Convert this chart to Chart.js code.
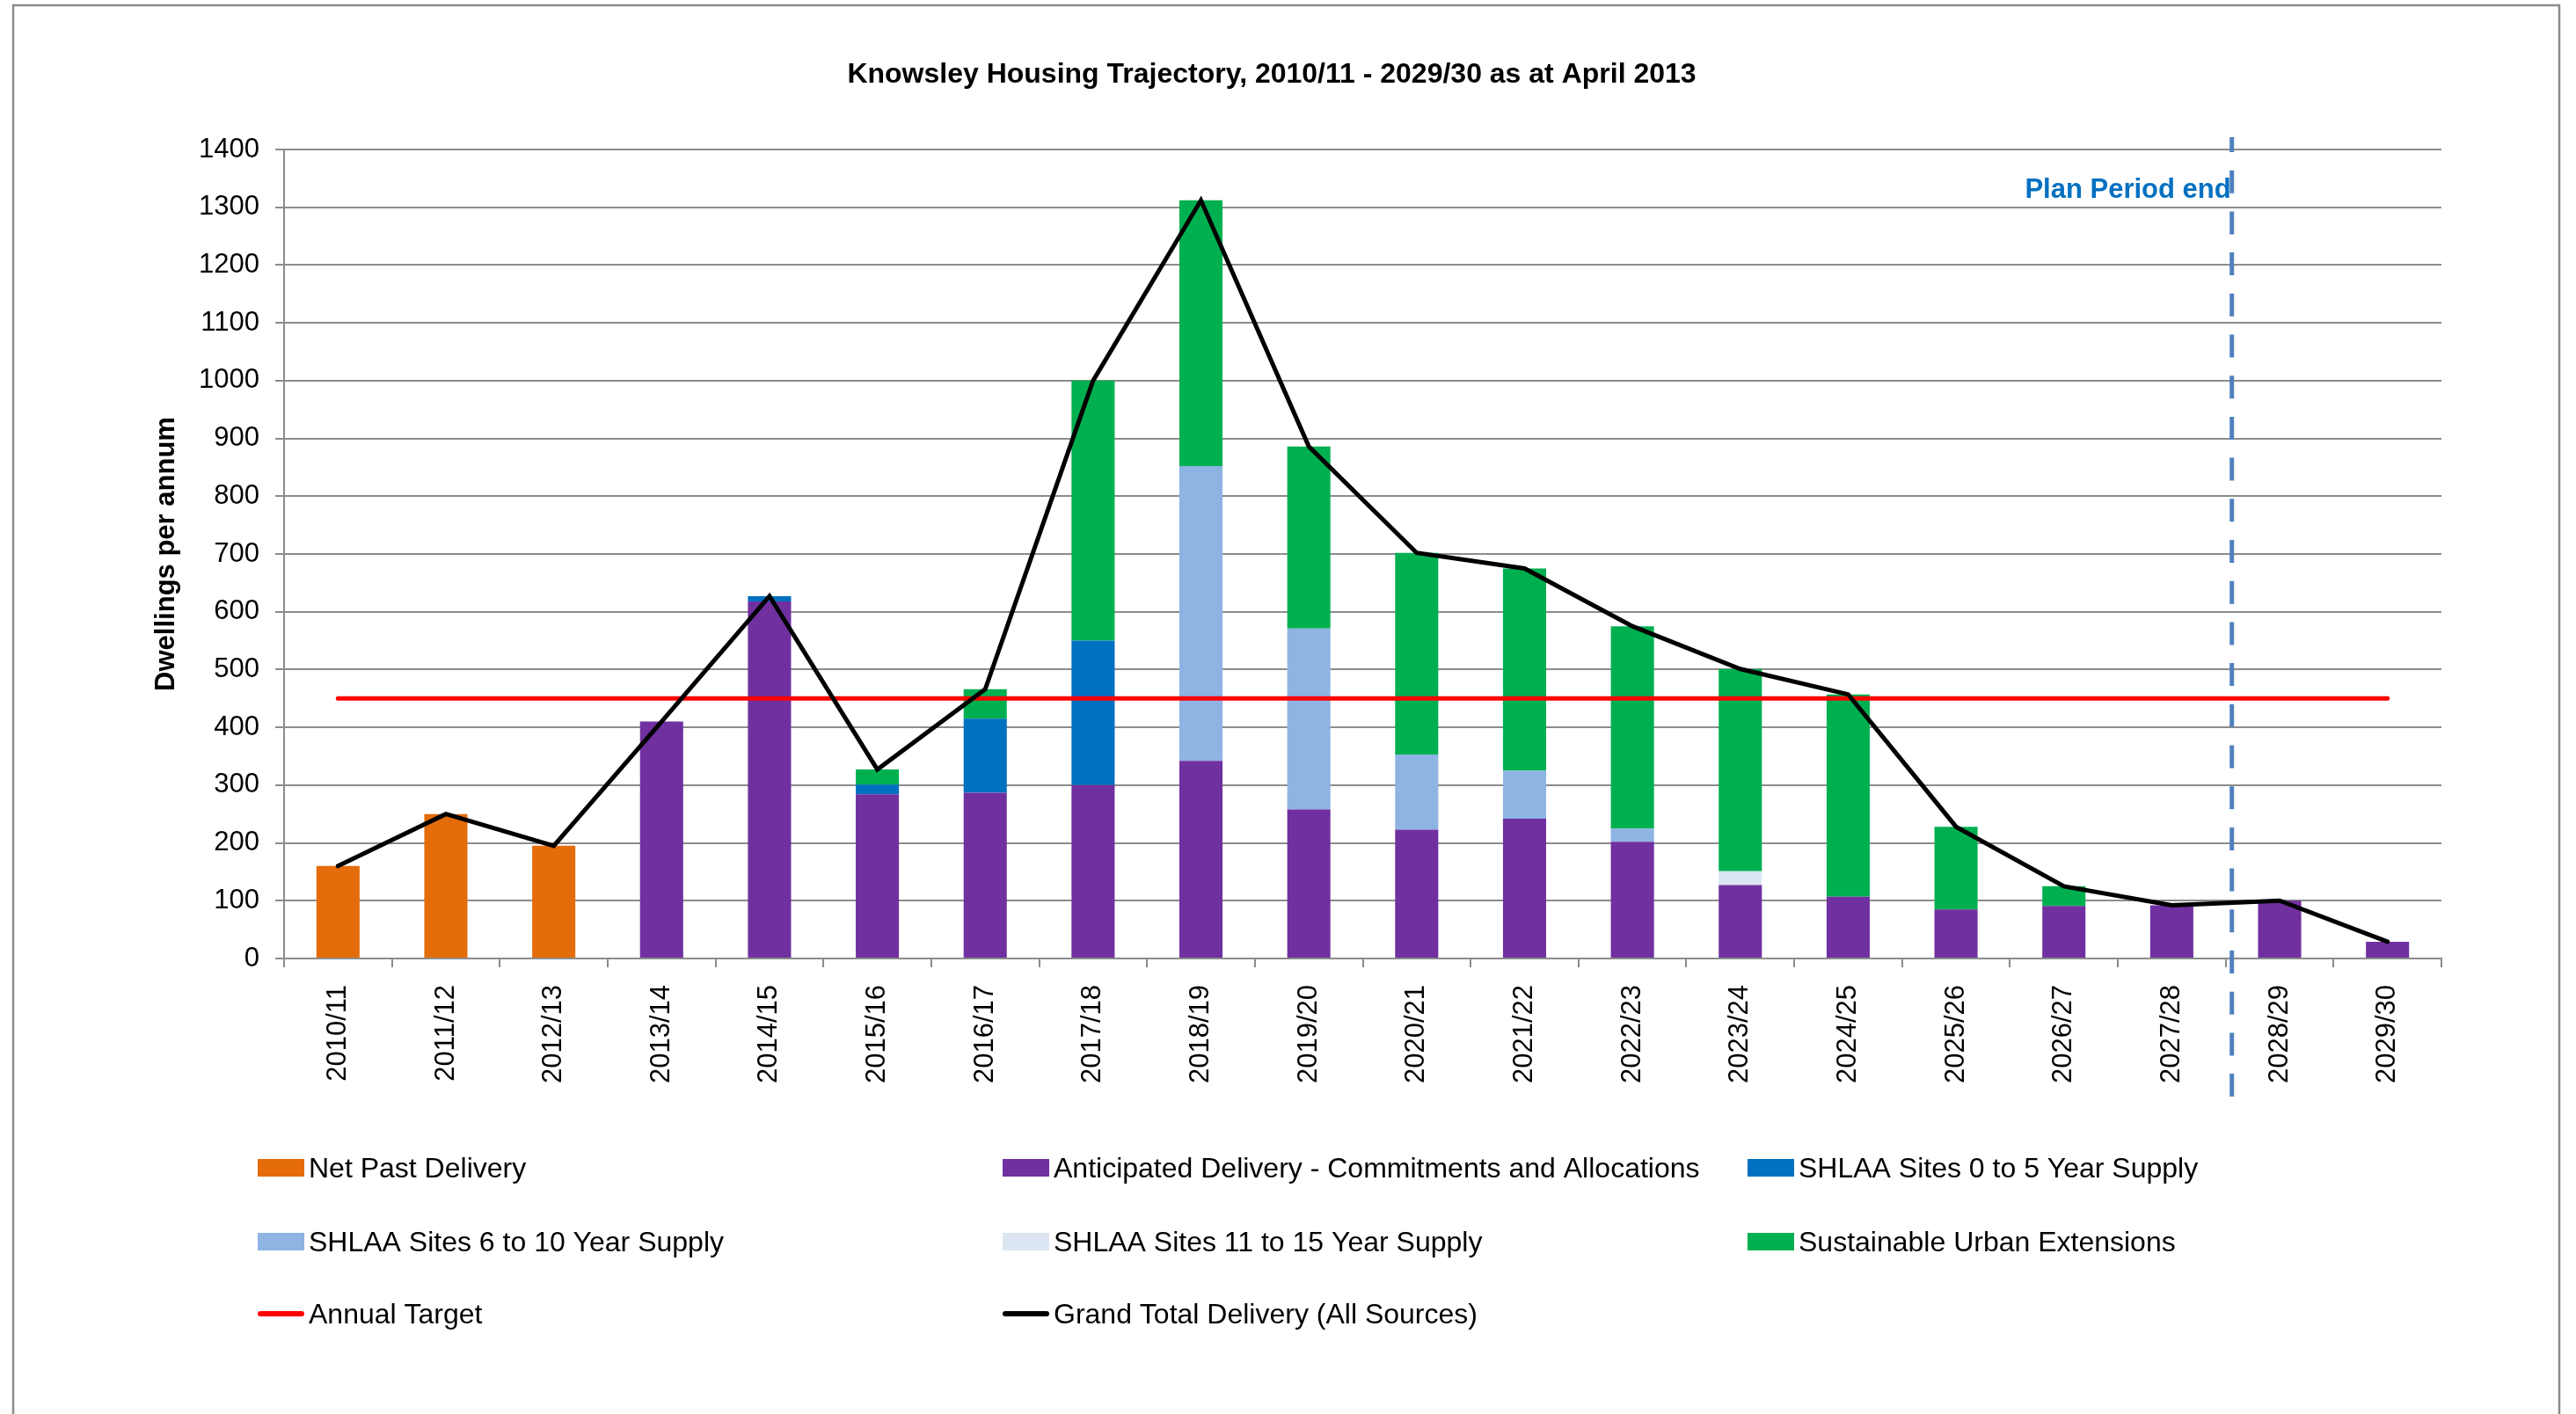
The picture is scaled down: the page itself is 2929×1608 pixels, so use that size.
<!DOCTYPE html>
<html lang="en">
<head>
<meta charset="UTF-8">
<title>Knowsley Housing Trajectory</title>
<script src="https://cdn.jsdelivr.net/npm/chart.js@4.4.0/dist/chart.umd.min.js"></script>
<style>
  html, body { margin: 0; padding: 0; background: #fff; }
  canvas { display: block; }
</style>
</head>
<body>
<canvas id="canvas" width="2929" height="1608"></canvas>
<script>
// financial years on the x axis
const years = ['2010/11', '2011/12', '2012/13', '2013/14', '2014/15', '2015/16', '2016/17',
  '2017/18', '2018/19', '2019/20', '2020/21', '2021/22', '2022/23', '2023/24', '2024/25',
  '2025/26', '2026/27', '2027/28', '2028/29', '2029/30'];

// dwellings per annum, by source
const netPastDelivery = [160, 250, 195, 0, 0, 0, 0, 0, 0, 0, 0, 0, 0, 0, 0, 0, 0, 0, 0, 0];
const commitmentsAllocations = [0, 0, 0, 410, 618, 284, 287, 300, 342, 258, 223, 242, 202, 127, 107, 85, 91, 92, 100, 29];
const shlaa0to5 = [0, 0, 0, 0, 9, 17, 128, 250, 0, 0, 0, 0, 0, 0, 0, 0, 0, 0, 0, 0];
const shlaa6to10 = [0, 0, 0, 0, 0, 0, 0, 0, 510, 313, 130, 83, 23, 0, 0, 0, 0, 0, 0, 0];
const shlaa11to15 = [0, 0, 0, 0, 0, 0, 0, 0, 0, 0, 0, 0, 0, 24, 0, 0, 0, 0, 0, 0];
const urbanExtensions = [0, 0, 0, 0, 0, 26, 51, 450, 460, 315, 349, 350, 350, 350, 350, 143, 34, 0, 0, 0];
const annualTarget = [450, 450, 450, 450, 450, 450, 450, 450, 450, 450, 450, 450, 450, 450, 450, 450, 450, 450, 450, 450];
const grandTotal = [160, 250, 195, 410, 627, 327, 466, 1000, 1312, 886, 702, 675, 575, 501, 457, 228, 125, 92, 100, 29];

// y axis ticks
const yMin = 0;
const yMax = 1400;
const yStep = 100;

const FONT = '"Liberation Sans", Arial, sans-serif';
const GRID = '#8c8c8c';

function barSet(label, data, color) {
  return { type: 'bar', label: label, data: data, backgroundColor: color, stack: 'supply', order: 2,
    barPercentage: 0.4, categoryPercentage: 1.0 };
}

// frame, title, axis title, "plan period" marker and a fixed-column legend
const extras = {
  id: 'extras',
  afterDatasetsDraw(chart) {
    const ctx = chart.ctx;
    const x = chart.scales.x;
    const lineX = (x.getPixelForValue(17) + x.getPixelForValue(18)) / 2 + 7;
    ctx.save();
    ctx.strokeStyle = '#4f81bd';
    ctx.lineWidth = 5;
    ctx.setLineDash([26, 20.7]);
    ctx.lineDashOffset = 9;
    ctx.beginPath();
    ctx.moveTo(lineX, 156);
    ctx.lineTo(lineX, 1248);
    ctx.stroke();
    ctx.setLineDash([]);
    ctx.fillStyle = '#0070c0';
    ctx.font = 'bold 31px ' + FONT;
    ctx.textAlign = 'right';
    ctx.textBaseline = 'middle';
    ctx.fillText('Plan Period end', lineX - 1, 216);
    ctx.restore();
  },
  afterDraw(chart) {
    const ctx = chart.ctx;
    ctx.save();
    ctx.strokeStyle = GRID;
    ctx.lineWidth = 2.5;
    ctx.beginPath();
    ctx.moveTo(15, 1620);
    ctx.lineTo(15, 6);
    ctx.lineTo(2910, 6);
    ctx.lineTo(2910, 1620);
    ctx.stroke();

    ctx.fillStyle = '#000';
    ctx.textAlign = 'center';
    ctx.textBaseline = 'middle';
    ctx.font = 'bold 32px ' + FONT;
    ctx.fillText('Knowsley Housing Trajectory, 2010/11 - 2029/30 as at April 2013', 1446, 85);

    const area = chart.chartArea;
    ctx.save();
    ctx.translate(189, (area.top + area.bottom) / 2);
    ctx.rotate(-Math.PI / 2);
    ctx.font = 'bold 31px ' + FONT;
    ctx.fillText('Dwellings per annum', 0, 0);
    ctx.restore();

    // legend: three columns, three rows
    const cols = [293, 1140, 1987];
    const rows = [1328, 1412, 1494];
    ctx.font = '32px ' + FONT;
    ctx.textAlign = 'left';
    chart.data.datasets.forEach(function (ds, i) {
      const lx = cols[i % 3];
      const ly = rows[Math.floor(i / 3)];
      if (ds.type === 'line') {
        ctx.strokeStyle = ds.borderColor;
        ctx.lineWidth = 6;
        ctx.lineCap = 'round';
        ctx.beginPath();
        ctx.moveTo(lx + 3, ly);
        ctx.lineTo(lx + 50, ly);
        ctx.stroke();
      } else {
        ctx.fillStyle = ds.backgroundColor;
        ctx.fillRect(lx, ly - 10, 53, 20);
      }
      ctx.fillStyle = '#000';
      ctx.fillText(ds.label, lx + 58, ly + 2);
    });
    ctx.restore();
  }
};

new Chart(document.getElementById('canvas'), {
  type: 'bar',
  data: {
    labels: years,
    datasets: [
      barSet('Net Past Delivery', netPastDelivery, '#e46c0a'),
      barSet('Anticipated Delivery - Commitments and Allocations', commitmentsAllocations, '#7030a0'),
      barSet('SHLAA Sites 0 to 5 Year Supply', shlaa0to5, '#0070c0'),
      barSet('SHLAA Sites 6 to 10 Year Supply', shlaa6to10, '#8eb4e3'),
      barSet('SHLAA Sites 11 to 15 Year Supply', shlaa11to15, '#dce6f2'),
      barSet('Sustainable Urban Extensions', urbanExtensions, '#00b050'),
      { type: 'line', label: 'Annual Target', data: annualTarget, borderColor: '#ff0000', borderWidth: 5,
        borderCapStyle: 'round', pointRadius: 0, tension: 0, stack: 'target', order: 1 },
      { type: 'line', label: 'Grand Total Delivery (All Sources)', data: grandTotal, borderColor: '#000000',
        borderWidth: 5, borderCapStyle: 'round', borderJoinStyle: 'miter', pointRadius: 0, tension: 0,
        stack: 'total', order: 0 }
    ]
  },
  options: {
    responsive: false,
    devicePixelRatio: 1,
    animation: false,
    layout: { padding: { top: 170, right: 153, left: 0, bottom: 0 } },
    plugins: { legend: { display: false }, tooltip: { enabled: false }, title: { display: false } },
    scales: {
      x: {
        stacked: true,
        grid: { drawOnChartArea: false, drawTicks: true, tickLength: 10, color: GRID, lineWidth: 2, offset: true },
        border: { display: true, color: GRID, width: 2 },
        ticks: { color: '#000', font: { family: FONT, size: 31 }, minRotation: 90, maxRotation: 90,
          autoSkip: false, padding: 20 },
        afterFit(scale) { scale.height = 518; }
      },
      y: {
        stacked: true,
        min: yMin,
        max: yMax,
        grid: { color: GRID, lineWidth: 2, tickLength: 10 },
        border: { display: true, color: GRID, width: 2 },
        ticks: { stepSize: yStep, color: '#000', font: { family: FONT, size: 31 }, padding: 18,
          callback: function (value) { return String(value); } },
        afterFit(scale) { scale.width = 323; }
      }
    }
  },
  plugins: [extras]
});
</script>
</body>
</html>
